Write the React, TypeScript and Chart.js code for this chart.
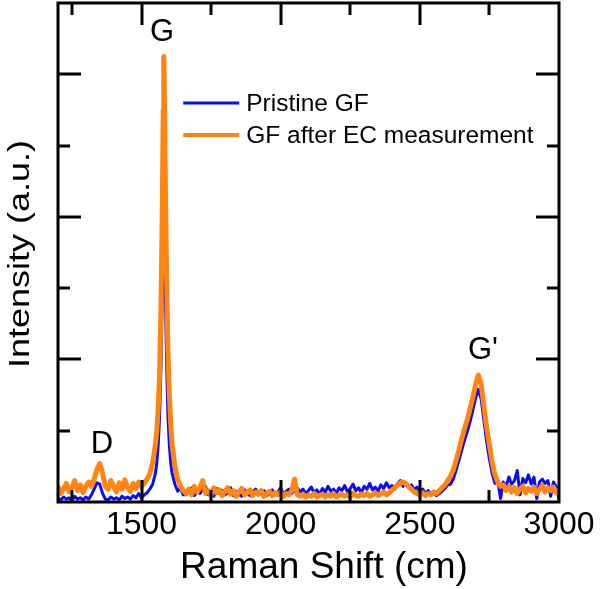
import React, { useEffect, useRef } from "react";
import { Chart, registerables } from "chart.js";

Chart.register(...registerables);

// Raman shift (cm-1) sampling points
const ramanShift = [
  1200, 1210, 1220, 1230, 1240, 1250, 1260, 1270, 1280, 1290,
  1300, 1310, 1320, 1330, 1340, 1350, 1360, 1370, 1380, 1390,
  1400, 1410, 1420, 1430, 1440, 1450, 1460, 1470, 1480, 1490,
  1500, 1510, 1520, 1530, 1540, 1550, 1555, 1560, 1565, 1570,
  1575, 1578, 1580, 1582, 1585, 1590, 1595, 1600, 1605, 1610,
  1620, 1630, 1640, 1650, 1660, 1670, 1680, 1690, 1700, 1710,
  1720, 1730, 1740, 1750, 1760, 1770, 1780, 1790, 1800, 1810,
  1820, 1830, 1840, 1850, 1860, 1870, 1880, 1890, 1900, 1910,
  1920, 1930, 1940, 1950, 1960, 1970, 1980, 1990, 2000, 2010,
  2020, 2030, 2040, 2050, 2060, 2070, 2080, 2090, 2100, 2110,
  2120, 2130, 2140, 2150, 2160, 2170, 2180, 2190, 2200, 2210,
  2220, 2230, 2240, 2250, 2260, 2270, 2280, 2290, 2300, 2310,
  2320, 2330, 2340, 2350, 2360, 2370, 2380, 2390, 2400, 2410,
  2420, 2430, 2440, 2450, 2460, 2470, 2480, 2490, 2500, 2510,
  2520, 2530, 2540, 2550, 2560, 2570, 2580, 2590, 2600, 2610,
  2620, 2630, 2640, 2650, 2660, 2670, 2680, 2690, 2700, 2710,
  2720, 2730, 2740, 2750, 2760, 2770, 2780, 2790, 2800, 2810,
  2820, 2830, 2840, 2850, 2860, 2870, 2880, 2890, 2900, 2910,
  2920, 2930, 2940, 2950, 2960, 2970, 2980, 2990, 3000,
];

// Pristine GF intensity (a.u.)
const pristineGF = [
  0.05, 0.03, 0.07, 0.04, 0.06, 0.02, 0.08, 0.04, 0.06, 0.03,
  0.07, 0.04, 0.1, 0.18, 0.27, 0.25, 0.12, 0.04, 0.03, 0.07,
  0.04, 0.06, 0.03, 0.08, 0.05, 0.07, 0.04, 0.09, 0.06, 0.12,
  0.06, 0.1, 0.13, 0.18, 0.25, 0.4, 0.55, 0.8, 1.2, 1.9,
  3.0, 3.7, 4.05, 3.8, 3.1, 2.0, 1.2, 0.8, 0.55, 0.4,
  0.25, 0.15, 0.2, 0.1, 0.1, 0.14, 0.2, 0.09, 0.16, 0.12,
  0.18, 0.22, 0.1, 0.15, 0.08, 0.19, 0.12, 0.16, 0.1, 0.13,
  0.2, 0.09, 0.15, 0.11, 0.08, 0.17, 0.12, 0.09, 0.14, 0.18,
  0.1, 0.13, 0.16, 0.09, 0.12, 0.17, 0.1, 0.14, 0.2, 0.11,
  0.15, 0.18, 0.12, 0.16, 0.2, 0.14, 0.18, 0.12, 0.16, 0.21,
  0.13, 0.17, 0.11, 0.19, 0.14, 0.22, 0.15, 0.18, 0.12, 0.2,
  0.16, 0.23, 0.14, 0.19, 0.25, 0.16, 0.2, 0.13, 0.22, 0.18,
  0.26, 0.17, 0.21, 0.15, 0.24, 0.19, 0.27, 0.2, 0.23, 0.18,
  0.26, 0.3, 0.22, 0.27, 0.2, 0.24, 0.17, 0.21, 0.14, 0.18,
  0.12, 0.16, 0.1, 0.13, 0.09, 0.12, 0.15, 0.19, 0.24, 0.25,
  0.32, 0.44, 0.58, 0.72, 0.86, 0.98, 1.12, 1.28, 1.45, 1.58,
  1.45, 1.15, 0.85, 0.6, 0.4, 0.26, 0.3, 0.05, 0.28, 0.22,
  0.35, 0.25, 0.3, 0.44, 0.1, 0.33, 0.27, 0.38, 0.25, 0.35,
  0.05, 0.28, 0.32, 0.26, 0.3, 0.08, 0.28, 0.22, 0.04,
];

// GF after EC measurement intensity (a.u.)
const afterEC = [
  0.22, 0.12, 0.18, 0.26, 0.14, 0.2, 0.3, 0.16, 0.24, 0.13,
  0.22, 0.28, 0.22, 0.32, 0.46, 0.54, 0.4, 0.22, 0.18, 0.3,
  0.22, 0.14, 0.27, 0.18, 0.31, 0.2, 0.15, 0.26, 0.19, 0.28,
  0.22, 0.26, 0.32, 0.4, 0.55, 0.8, 1.0, 1.3, 1.8, 2.7,
  4.2, 5.5, 6.25, 5.8, 4.7, 3.2, 2.1, 1.5, 1.1, 0.8,
  0.5, 0.32, 0.22, 0.16, 0.12, 0.18, 0.1, 0.22, 0.14, 0.2,
  0.3, 0.12, 0.16, 0.1, 0.2, 0.13, 0.17, 0.09, 0.15, 0.2,
  0.11, 0.16, 0.08, 0.14, 0.19, 0.1, 0.13, 0.17, 0.09, 0.14,
  0.11, 0.16, 0.08, 0.12, 0.15, 0.09, 0.13, 0.1, 0.14, 0.08,
  0.12, 0.1, 0.16, 0.32, 0.1, 0.08, 0.11, 0.07, 0.1, 0.08,
  0.12, 0.07, 0.09, 0.11, 0.07, 0.1, 0.08, 0.12, 0.07, 0.09,
  0.11, 0.08, 0.1, 0.07, 0.12, 0.09, 0.08, 0.11, 0.09, 0.12,
  0.08, 0.1, 0.13, 0.09, 0.11, 0.14, 0.1, 0.13, 0.17, 0.2,
  0.24, 0.27, 0.28, 0.25, 0.22, 0.18, 0.14, 0.12, 0.1, 0.13,
  0.09, 0.12, 0.1, 0.14, 0.12, 0.16, 0.2, 0.24, 0.3, 0.36,
  0.45, 0.58, 0.72, 0.88, 1.02, 1.15, 1.3, 1.46, 1.64, 1.78,
  1.66, 1.35, 1.05, 0.8, 0.55, 0.38, 0.28, 0.22, 0.24, 0.16,
  0.22, 0.14, 0.2, 0.12, 0.18, 0.22, 0.13, 0.19, 0.15, 0.21,
  0.12, 0.18, 0.23, 0.14, 0.2, 0.16, 0.21, 0.13, 0.17,
];

const xTickValues = [1250, 1500, 1750, 2000, 2250, 2500, 2750];
const xTickLabels = [1500, 2000, 2500, 3000];
const yTickValues = [1, 2, 3, 4, 5, 6];

const seriesNames = ["Pristine GF", "GF after EC measurement"];
const seriesColors = ["#0a0aff", "#ff8410"];

const peakNames = ["D", "G", "G'"];
const peakShift = [1358, 1574, 2727];
const peakLabelLevel = [0.81, 6.59, 2.13];

const FONT = "'Liberation Sans', Arial, sans-serif";

const decorPlugin = {
  id: "decor",
  afterDatasetsDraw(chart: any) {
    const { ctx, chartArea, scales } = chart;
    const { left, right, top, bottom } = chartArea;
    const xs = scales.x;
    const ys = scales.y;
    ctx.save();
    ctx.strokeStyle = "#000";
    ctx.lineWidth = 3;
    ctx.lineCap = "butt";
    ctx.strokeRect(left, top, right - left, bottom - top);
    ctx.beginPath();
    for (const v of xTickValues) {
      const px = Math.round(xs.getPixelForValue(v));
      const len = v % 500 === 0 ? 22 : 12;
      ctx.moveTo(px, top);
      ctx.lineTo(px, top + len);
      ctx.moveTo(px, bottom);
      ctx.lineTo(px, bottom - len);
    }
    for (const v of yTickValues) {
      const py = Math.round(ys.getPixelForValue(v));
      const len = v % 2 === 0 ? 23 : 12;
      ctx.moveTo(left, py);
      ctx.lineTo(left + len, py);
      ctx.moveTo(right, py);
      ctx.lineTo(right - len, py);
    }
    ctx.stroke();

    // peak labels
    ctx.fillStyle = "#000";
    ctx.textAlign = "center";
    ctx.textBaseline = "middle";
    ctx.font = `31px ${FONT}`;
    peakNames.forEach((name, i) => {
      ctx.fillText(name, xs.getPixelForValue(peakShift[i]), ys.getPixelForValue(peakLabelLevel[i]));
    });

    // legend
    const legX = xs.getPixelForValue(1650);
    const legY = [103, 135];
    const lw = [3, 4];
    ctx.textAlign = "left";
    ctx.textBaseline = "alphabetic";
    ctx.font = `24.5px ${FONT}`;
    seriesNames.forEach((name, i) => {
      ctx.strokeStyle = seriesColors[i];
      ctx.lineWidth = lw[i];
      ctx.beginPath();
      ctx.moveTo(legX, legY[i]);
      ctx.lineTo(legX + 56, legY[i]);
      ctx.stroke();
      ctx.fillStyle = "#000";
      ctx.fillText(name, legX + 63, legY[i] + 8);
    });

    // axis titles
    ctx.font = `37px ${FONT}`;
    ctx.textAlign = "center";
    ctx.fillText("Raman Shift (cm)", 324, 578);
    ctx.save();
    ctx.translate(29, 254);
    ctx.rotate(-Math.PI / 2);
    ctx.scale(1, 0.8);
    ctx.font = `36px ${FONT}`;
    ctx.fillText("Intensity (a.u.)", 0, 0);
    ctx.restore();
    ctx.restore();
  },
};

export default function App() {
  const canvasRef = useRef<HTMLCanvasElement>(null);

  useEffect(() => {
    const canvas = canvasRef.current;
    if (!canvas) return;
    const pts = (arr: number[]) => arr.map((y, i) => ({ x: ramanShift[i], y }));
    const chart = new Chart(canvas, {
      type: "line",
      data: {
        datasets: [
          {
            label: seriesNames[0],
            data: pts(pristineGF),
            borderColor: seriesColors[0],
            borderWidth: 3,
            pointRadius: 0,
            tension: 0,
            borderJoinStyle: "round",
            order: 2,
          },
          {
            label: seriesNames[1],
            data: pts(afterEC),
            borderColor: seriesColors[1],
            borderWidth: 5,
            pointRadius: 0,
            tension: 0,
            borderJoinStyle: "round",
            order: 1,
          },
        ],
      },
      options: {
        animation: false,
        responsive: true,
        maintainAspectRatio: false,
        layout: { padding: { left: 0, right: 41, top: 3, bottom: 0 } },
        plugins: { legend: { display: false }, tooltip: { enabled: false } },
        scales: {
          x: {
            type: "linear",
            min: 1200,
            max: 3000,
            grid: { display: false, drawTicks: false },
            border: { display: false },
            afterBuildTicks: (s: any) => {
              s.ticks = xTickLabels.map((v) => ({ value: v }));
            },
            ticks: {
              autoSkip: false,
              maxRotation: 0,
              padding: 4,
              color: "#000",
              font: { family: FONT, size: 32 },
              callback: (v: any) => String(v),
            },
            afterFit: (s: any) => {
              s.height = 87;
            },
          },
          y: {
            type: "linear",
            min: 0,
            max: 7,
            grid: { display: false, drawTicks: false },
            border: { display: false },
            ticks: { display: false, stepSize: 1 },
            afterFit: (s: any) => {
              s.width = 58;
            },
          },
        },
      },
      plugins: [decorPlugin],
    });
    return () => chart.destroy();
  }, []);

  return (
    <div style={{ position: "fixed", left: 0, top: 0, width: 600, height: 589, background: "#fff" }}>
      <canvas ref={canvasRef} />
    </div>
  );
}
